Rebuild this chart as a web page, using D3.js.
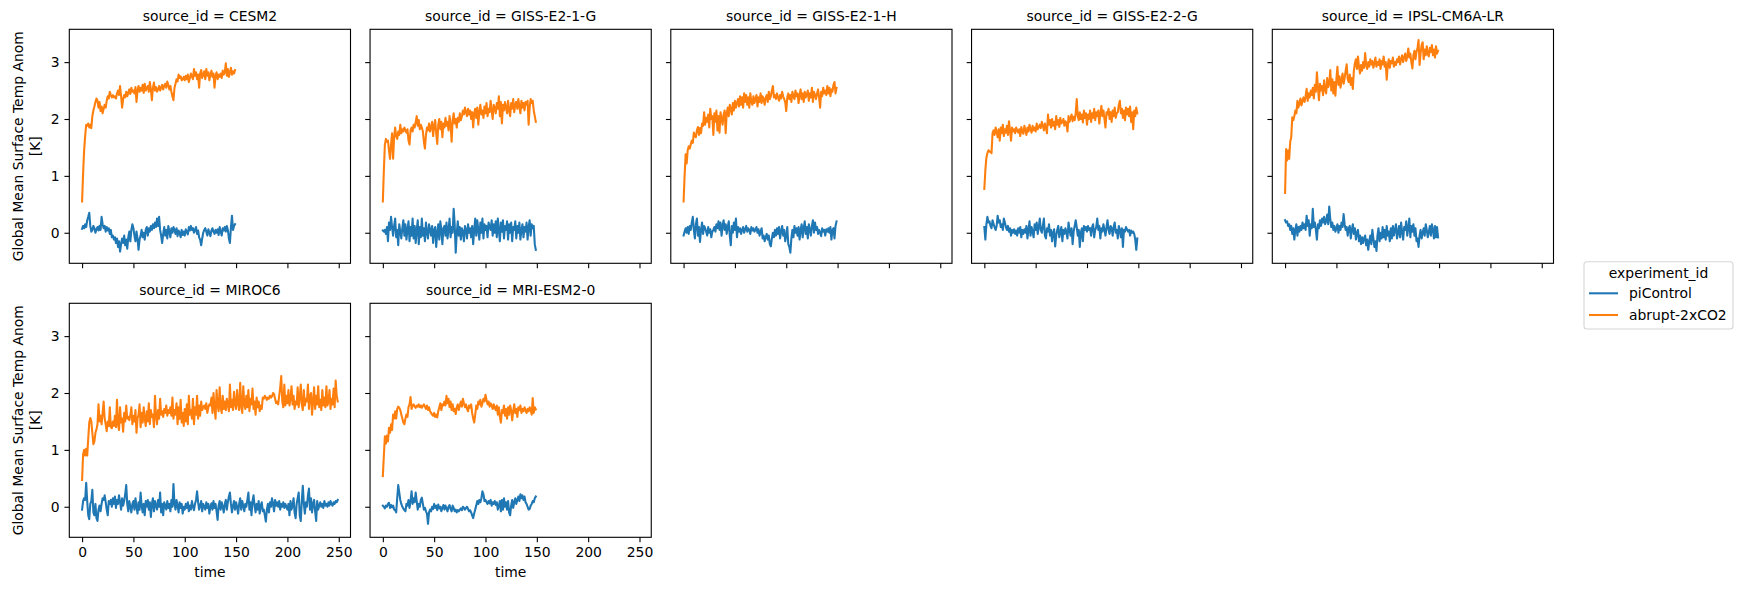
<!DOCTYPE html>
<html>

<head>
    <meta charset="utf-8">
    <title>Global Mean Surface Temp Anom</title>
    <script src="https://d3js.org/d3.v7.min.js"></script>
    <style>
        body { margin: 0; background: #fff; overflow: hidden; }
        text { font-family: "DejaVu Sans", sans-serif; fill: #000; }
    </style>
</head>

<body>
    <svg width="1740" height="590"></svg>
    <script>
        // facet names, legend entries, ticks
        const sourceIds = ["CESM2", "GISS-E2-1-G", "GISS-E2-1-H", "GISS-E2-2-G", "IPSL-CM6A-LR", "MIROC6", "MRI-ESM2-0"]
        const experiments = ["piControl", "abrupt-2xCO2"]
        const xTicks = [0, 50, 100, 150, 200, 250]
        const yTicks = [0, 1, 2, 3]

        // yearly values (index = year)
        const cesm2Control = [
            0.07, 0.12, 0.08, 0.15, 0.10, 0.22, 0.28, 0.35, 0.12, 0.02,
            0.05, 0.12, 0.08, 0.00, 0.06, 0.10, 0.04, 0.12, 0.05, 0.28,
            0.15, 0.08, 0.12, 0.02, 0.10, 0.04, 0.08, -0.02, 0.05, -0.08,
            -0.05, -0.12, -0.08, -0.18, -0.10, -0.25, -0.15, -0.33, -0.20, -0.10,
            -0.18, -0.05, -0.22, -0.12, -0.28, -0.08, 0.02, -0.15, 0.05, 0.15,
            0.08, -0.05, -0.15, 0.02, -0.10, -0.30, -0.12, -0.05, 0.05, -0.08,
            0.00, -0.12, 0.05, 0.10, -0.05, 0.08, 0.02, 0.12, 0.05, 0.15,
            0.08, 0.18, 0.10, 0.25, 0.12, 0.28, 0.05, -0.05, -0.18, -0.02,
            0.10, -0.05, 0.05, -0.10, 0.12, 0.02, -0.08, 0.08, 0.00, 0.10,
            0.05, -0.02, 0.08, -0.06, 0.04, 0.00, -0.08, 0.05, -0.04, 0.02,
            -0.05, 0.06, 0.02, -0.03, 0.10, 0.04, 0.12, 0.05, 0.08, 0.00,
            0.05, 0.10, -0.02, 0.04, -0.08, -0.12, -0.22, -0.10, 0.00, 0.05,
            0.08, 0.02, -0.05, 0.06, 0.00, -0.06, 0.04, 0.08, 0.02, -0.02,
            0.05, 0.00, 0.06, -0.04, 0.10, 0.02, -0.05, 0.08, 0.04, 0.10,
            0.02, 0.12, 0.05, -0.10, -0.18, 0.10, 0.30, 0.05, 0.12, 0.15
        ]
        const cesm2Abrupt = [
            0.55, 1.05, 1.45, 1.70, 1.90, 1.88, 1.92, 1.85, 1.90, 1.84,
            2.05, 2.15, 2.22, 2.30, 2.36, 2.32, 2.20, 2.30, 2.14, 2.22,
            2.10, 2.18, 2.25, 2.20, 2.32, 2.40, 2.36, 2.48, 2.42, 2.38,
            2.42, 2.38, 2.40, 2.36, 2.45, 2.50, 2.42, 2.58, 2.40, 2.20,
            2.35, 2.42, 2.38, 2.48, 2.40, 2.46, 2.52, 2.44, 2.55, 2.48,
            2.50, 2.45, 2.56, 2.30, 2.50, 2.58, 2.48, 2.55, 2.50, 2.60,
            2.46, 2.62, 2.50, 2.55, 2.58, 2.48, 2.65, 2.52, 2.33, 2.55,
            2.64, 2.50, 2.56, 2.48, 2.52, 2.58, 2.50, 2.55, 2.60, 2.52,
            2.58, 2.62, 2.55, 2.66, 2.60, 2.52, 2.58, 2.48, 2.40, 2.33,
            2.55, 2.62, 2.70, 2.66, 2.78, 2.72, 2.75, 2.68, 2.70, 2.74,
            2.68, 2.76, 2.70, 2.78, 2.65, 2.72, 2.80, 2.74, 2.70, 2.88,
            2.76, 2.82, 2.70, 2.78, 2.55, 2.80, 2.86, 2.72, 2.78, 2.84,
            2.70, 2.88, 2.76, 2.82, 2.68, 2.78, 2.85, 2.74, 2.80, 2.55,
            2.76, 2.82, 2.70, 2.78, 2.74, 2.80, 2.72, 2.85, 2.78, 2.82,
            2.98, 2.76, 2.88, 2.74, 2.82, 2.90, 2.78, 2.84, 2.80, 2.86
        ]
        const giss21gControl = [
            0.04, 0.02, 0.05, -0.02, 0.10, -0.15, 0.18, 0.05, 0.28, 0.10,
            -0.05, 0.12, 0.25, -0.08, 0.05, -0.22, 0.15, 0.02, -0.10, 0.08,
            0.22, -0.05, 0.15, -0.12, 0.05, 0.20, -0.15, 0.10, -0.05, 0.25,
            -0.10, 0.12, -0.18, 0.05, 0.22, -0.20, 0.10, -0.08, 0.25, -0.05,
            0.08, -0.15, 0.18, 0.00, -0.10, 0.15, 0.05, -0.05, 0.12, -0.18,
            0.05, 0.10, -0.25, 0.00, 0.15, -0.12, 0.20, 0.05, -0.20, 0.08,
            0.12, -0.05, 0.18, -0.10, 0.05, 0.25, -0.08, 0.10, 0.00, 0.42,
            0.15, -0.35, 0.00, 0.20, -0.05, 0.10, -0.12, 0.08, 0.02, -0.15,
            0.12, 0.05, -0.10, 0.15, 0.00, 0.08, -0.08, 0.12, -0.20, 0.05,
            0.25, -0.05, 0.22, 0.05, -0.12, 0.18, 0.00, 0.25, -0.10, 0.15,
            0.05, 0.12, -0.08, 0.18, 0.10, 0.05, 0.22, -0.05, 0.15, 0.00,
            0.20, -0.08, 0.25, 0.05, -0.15, 0.18, 0.02, 0.22, -0.10, 0.12,
            0.05, 0.20, -0.12, 0.15, 0.00, 0.18, -0.15, 0.10, 0.05, 0.20,
            -0.10, 0.12, 0.00, 0.18, -0.12, 0.05, 0.15, -0.08, 0.10, 0.02,
            0.18, -0.12, 0.10, 0.22, -0.05, 0.15, 0.08, 0.12, -0.20, -0.30
        ]
        const giss21gAbrupt = [
            0.55, 1.10, 1.55, 1.65, 1.60, 1.62, 1.45, 1.30, 1.55, 1.75,
            1.30, 1.68, 1.85, 1.70, 1.65, 1.78, 1.72, 1.90, 1.75, 1.82,
            1.78, 1.85, 1.80, 1.76, 1.82, 1.62, 1.55, 1.80, 1.85, 1.78,
            1.90, 1.85, 1.95, 2.05, 1.88, 1.98, 1.82, 1.90, 1.85, 1.78,
            1.60, 1.48, 1.72, 1.85, 1.80, 1.92, 1.78, 1.86, 1.95, 1.70,
            1.88, 1.98, 1.75, 1.56, 1.90, 2.00, 1.82, 1.95, 1.68, 1.92,
            1.85, 2.02, 1.88, 1.95, 1.80, 2.05, 1.90, 1.60, 1.98, 2.10,
            1.92, 2.00, 1.85, 2.02, 1.95, 2.10, 1.98, 2.05, 2.15, 2.08,
            2.20, 2.12, 2.05, 2.18, 2.08, 2.15, 2.00, 2.12, 1.85, 2.10,
            2.18, 2.02, 2.20, 1.90, 2.12, 2.25, 2.08, 2.15, 2.02, 2.22,
            2.10, 2.28, 2.05, 2.18, 2.12, 2.32, 2.15, 2.00, 2.25, 2.20,
            2.10, 2.28, 2.18, 2.40, 2.05, 2.30, 1.92, 2.25, 2.15, 2.30,
            2.20, 2.10, 2.32, 2.15, 2.05, 2.28, 2.18, 2.35, 2.12, 2.25,
            2.30, 2.18, 2.35, 2.22, 2.10, 2.32, 2.20, 2.28, 2.15, 2.30,
            2.25, 2.32, 1.90, 2.20, 2.35, 2.28, 2.32, 2.15, 2.05, 1.95
        ]
        const giss21hControl = [
            -0.05, 0.02, 0.08, 0.00, 0.10, -0.02, 0.12, 0.05, 0.18, 0.28,
            0.05, -0.10, 0.15, 0.25, -0.05, 0.10, -0.16, 0.05, 0.18, -0.02,
            0.12, 0.08, 0.02, -0.05, 0.10, 0.00, 0.06, -0.08, 0.02, 0.05,
            0.10, 0.02, 0.15, 0.08, 0.20, 0.05, 0.18, -0.05, 0.12, 0.22,
            0.05, 0.15, -0.02, 0.10, 0.20, -0.05, -0.22, 0.12, 0.00, 0.18,
            0.05, 0.25, -0.08, 0.10, 0.02, 0.08, -0.02, 0.05, 0.10, 0.00,
            0.06, 0.12, 0.02, 0.08, 0.05, -0.02, 0.10, 0.04, 0.08, 0.02,
            0.05, 0.10, 0.00, 0.06, -0.05, 0.02, 0.08, -0.10, -0.05, -0.15,
            -0.08, -0.02, -0.12, -0.05, -0.20, -0.24, -0.10, 0.00, -0.08, 0.05,
            -0.05, 0.08, -0.02, 0.10, -0.10, 0.02, 0.12, -0.05, 0.05, -0.15,
            -0.05, 0.10, -0.20, -0.25, -0.35, -0.10, 0.05, -0.08, 0.12, 0.00,
            0.08, -0.05, 0.10, -0.12, 0.05, 0.15, -0.08, 0.08, 0.20, -0.02,
            0.10, -0.10, 0.15, 0.05, -0.05, 0.12, 0.22, 0.00, 0.18, 0.05,
            0.10, -0.02, 0.05, 0.00, -0.06, 0.08, 0.02, 0.05, -0.05, 0.06,
            0.02, 0.08, 0.00, 0.10, -0.12, 0.05, 0.08, -0.10, 0.12, 0.20
        ]
        const giss21hAbrupt = [
            0.55, 1.00, 1.38, 1.22, 1.45, 1.52, 1.48, 1.55, 1.62, 1.58,
            1.76, 1.70, 1.68, 1.80, 1.86, 1.72, 1.84, 1.75, 1.92, 1.88,
            2.12, 1.90, 2.02, 1.95, 2.08, 1.85, 2.18, 2.00, 2.05, 1.72,
            2.10, 1.95, 2.15, 1.80, 2.05, 1.76, 2.12, 2.00, 1.90, 2.08,
            2.15, 1.75, 2.10, 2.20, 2.05, 2.25, 2.18, 2.08, 2.28, 2.15,
            2.32, 2.20, 2.28, 2.35, 2.22, 2.40, 2.25, 2.38, 2.20, 2.45,
            2.30, 2.42, 2.25, 2.38, 2.20, 2.45, 2.30, 2.25, 2.40, 2.28,
            2.35, 2.42, 2.22, 2.38, 2.30, 2.45, 2.28, 2.40, 2.35, 2.25,
            2.38, 2.42, 2.30, 2.48, 2.35, 2.40, 2.50, 2.58, 2.38, 2.42,
            2.35, 2.45, 2.38, 2.32, 2.42, 2.36, 2.48, 2.40, 2.35, 2.30,
            2.14, 2.38, 2.45, 2.35, 2.42, 2.30, 2.48, 2.40, 2.35, 2.50,
            2.40, 2.45, 2.28, 2.42, 2.52, 2.35, 2.45, 2.30, 2.48, 2.38,
            2.42, 2.50, 2.32, 2.45, 2.38, 2.55, 2.30, 2.48, 2.42, 2.35,
            2.45, 2.52, 2.38, 2.20, 2.48, 2.40, 2.55, 2.45, 2.50, 2.42,
            2.58, 2.45, 2.55, 2.40, 2.52, 2.48, 2.60, 2.65, 2.45, 2.55
        ]
        const giss22gControl = [
            0.10, -0.12, 0.15, 0.28, 0.18, 0.20, 0.12, 0.08, 0.22, 0.15,
            0.10, 0.05, 0.12, 0.30, 0.18, 0.22, 0.10, 0.15, 0.05, 0.25,
            0.18, 0.10, 0.05, 0.12, 0.02, 0.08, -0.05, 0.05, 0.00, 0.06,
            -0.02, 0.04, -0.05, 0.08, 0.00, 0.10, -0.08, 0.05, -0.02, 0.06,
            0.00, 0.12, -0.10, 0.05, 0.20, -0.05, 0.10, 0.02, -0.08, 0.15,
            0.05, 0.18, -0.02, 0.10, 0.25, 0.05, 0.00, 0.12, 0.25, -0.05,
            -0.10, 0.08, 0.02, 0.15, -0.05, 0.05, -0.15, 0.00, 0.06, -0.24,
            -0.05, 0.05, 0.12, -0.08, 0.02, 0.10, -0.15, 0.05, -0.02, 0.08,
            0.00, -0.10, 0.18, 0.05, -0.05, 0.08, -0.20, 0.02, 0.12, 0.22,
            0.10, -0.05, 0.05, -0.25, 0.00, 0.08, -0.15, 0.12, 0.05, 0.10,
            0.02, 0.12, 0.05, 0.08, -0.05, 0.10, 0.15, -0.08, 0.05, 0.10,
            0.25, 0.05, 0.12, -0.10, 0.08, 0.02, 0.15, 0.05, -0.05, 0.10,
            0.22, 0.05, -0.02, 0.12, 0.08, -0.05, 0.10, 0.18, 0.00, 0.05,
            -0.10, 0.12, 0.05, -0.08, 0.08, -0.25, 0.05, 0.02, 0.10, 0.06,
            0.02, 0.05, -0.05, 0.04, 0.00, 0.02, -0.02, -0.12, -0.30, -0.10
        ]
        const giss22gAbrupt = [
            0.77, 1.10, 1.32, 1.40, 1.45, 1.43, 1.42, 1.40, 1.75, 1.80,
            1.72, 1.85, 1.78, 1.68, 1.82, 1.62, 1.85, 1.75, 1.90, 1.70,
            1.82, 1.76, 1.88, 1.72, 1.96, 1.80, 1.62, 1.85, 1.78, 1.82,
            1.75, 1.85, 1.80, 1.76, 1.82, 1.70, 1.86, 1.78, 1.74, 1.88,
            1.80, 1.72, 1.85, 1.78, 1.90, 1.82, 1.76, 1.88, 1.80, 1.85,
            1.78, 1.92, 1.82, 1.86, 1.90, 1.84, 1.95, 1.88, 1.80, 1.92,
            1.85, 1.75, 2.08, 1.90, 1.98, 1.85, 2.00, 1.88, 1.95, 1.82,
            2.05, 1.90, 1.98, 1.86, 2.02, 1.92, 1.95, 2.00, 1.88, 1.96,
            1.92, 1.78, 2.05, 1.95, 2.02, 2.08, 1.96, 2.04, 1.98, 2.10,
            2.35, 2.05, 1.98, 2.12, 2.00, 2.08, 1.94, 2.15, 2.02, 2.10,
            1.90, 2.08, 2.00, 2.15, 1.95, 2.10, 2.02, 2.18, 1.98, 2.12,
            2.05, 2.15, 1.92, 2.10, 2.23, 2.05, 2.15, 2.00, 1.85, 2.12,
            2.08, 2.18, 2.00, 2.12, 1.95, 2.15, 2.05, 2.20, 2.02, 2.10,
            2.12, 2.25, 2.32, 2.10, 2.18, 2.02, 2.15, 1.98, 2.20, 2.08,
            2.18, 2.05, 2.22, 1.95, 2.12, 1.82, 2.15, 2.05, 2.20, 2.10
        ]
        const ipslControl = [
            0.22, 0.18, 0.20, 0.12, 0.15, 0.05, 0.12, -0.02, 0.08, -0.12,
            0.05, 0.15, -0.05, 0.10, 0.02, 0.12, 0.05, 0.18, 0.08, 0.15,
            0.05, 0.30, 0.12, 0.22, -0.05, 0.15, 0.08, 0.42, 0.10, 0.18,
            0.05, -0.12, 0.15, 0.08, 0.22, 0.12, 0.25, 0.18, 0.28, 0.15,
            0.20, 0.32, 0.15, 0.46, 0.25, 0.10, 0.18, 0.05, 0.12, 0.02,
            0.08, 0.15, 0.00, 0.12, 0.05, 0.18, 0.10, 0.33, 0.15, 0.05,
            0.10, -0.05, 0.08, 0.12, -0.10, 0.05, 0.15, -0.02, 0.08, -0.12,
            0.00, 0.05, -0.15, -0.05, -0.20, -0.08, -0.18, -0.10, -0.05, -0.22,
            -0.12, -0.30, -0.15, -0.05, -0.20, 0.05, -0.10, -0.25, -0.15, -0.32,
            -0.05, 0.08, -0.15, 0.00, -0.10, 0.10, -0.08, 0.05, -0.12, 0.12,
            -0.05, 0.02, -0.15, 0.08, -0.10, 0.12, -0.05, 0.05, 0.15, -0.10,
            0.00, 0.12, -0.08, 0.18, 0.02, -0.12, 0.10, 0.05, 0.20, -0.05,
            0.08, 0.25, -0.08, 0.12, 0.02, 0.15, -0.05, 0.08, -0.15, -0.10,
            -0.25, -0.05, 0.05, -0.10, 0.00, 0.08, -0.05, 0.15, 0.05, -0.08,
            0.02, 0.12, -0.05, 0.15, 0.05, -0.10, 0.12, -0.08, 0.10, -0.08
        ]
        const ipslAbrupt = [
            0.70, 1.47, 1.27, 1.45, 1.30, 1.60, 1.68, 2.03, 1.98, 2.05,
            2.15, 2.10, 2.32, 2.20, 2.28, 2.36, 2.24, 2.32, 2.38, 2.30,
            2.40, 2.53, 2.32, 2.45, 2.38, 2.50, 2.42, 2.55, 2.36, 2.60,
            2.48, 2.82, 2.55, 2.33, 2.62, 2.50, 2.58, 2.42, 2.68, 2.52,
            2.45, 2.72, 2.56, 2.62, 2.86, 2.50, 2.70, 2.45, 2.65, 2.41,
            2.70, 2.92, 2.60, 2.75, 2.55, 2.68, 2.80, 2.62, 2.72, 2.85,
            2.96, 2.70, 2.65, 2.78, 2.60, 2.72, 2.53, 2.85, 2.98, 3.05,
            2.88, 3.10, 2.92, 2.80, 2.95, 2.85, 3.00, 2.90, 3.16, 2.95,
            2.88, 3.00, 2.92, 3.05, 2.96, 3.02, 2.90, 2.98, 3.08, 2.92,
            3.00, 2.95, 3.05, 2.88, 3.02, 2.96, 3.10, 2.92, 3.00, 2.69,
            2.95, 3.05, 2.90, 3.02, 2.98, 3.08, 2.92, 3.00, 2.95, 3.05,
            3.00, 3.10, 2.96, 3.05, 3.12, 3.00, 3.08, 3.15, 3.02, 3.10,
            3.24, 3.08, 3.15, 3.00, 2.89, 3.12, 3.20, 3.05, 3.18, 3.25,
            3.39, 2.95, 3.15, 3.30, 3.35, 3.05, 3.22, 3.12, 3.28, 3.15,
            3.10, 3.25, 3.18, 3.30, 3.12, 3.22, 3.08, 3.28, 3.15, 3.20
        ]
        const mirocControl = [
            -0.05, 0.10, 0.15, 0.12, 0.42, 0.10, -0.15, -0.22, 0.05, 0.10,
            0.30, -0.10, -0.15, 0.05, -0.20, -0.25, -0.05, 0.02, -0.08, 0.05,
            0.15, 0.12, 0.20, 0.08, -0.05, -0.15, 0.10, 0.05, 0.12, 0.00,
            0.15, 0.05, 0.18, -0.02, 0.12, 0.05, 0.20, 0.08, -0.05, 0.15,
            0.02, 0.10, 0.22, 0.38, 0.05, -0.08, 0.10, 0.00, -0.10, 0.05,
            0.10, -0.05, 0.15, 0.00, -0.12, 0.08, -0.05, 0.25, 0.02, -0.10,
            0.05, -0.15, 0.10, 0.00, 0.12, -0.05, 0.08, -0.18, 0.05, 0.15,
            -0.08, 0.10, 0.02, -0.05, 0.12, 0.00, 0.25, -0.10, 0.05, -0.15,
            0.08, 0.02, -0.05, 0.10, -0.02, 0.05, -0.08, 0.12, 0.00, 0.40,
            0.05, -0.05, 0.12, 0.02, -0.10, 0.08, -0.02, 0.05, -0.12, 0.00,
            -0.05, 0.05, -0.02, 0.08, -0.08, 0.02, -0.05, 0.10, 0.00, -0.06,
            0.05, 0.12, 0.27, 0.08, -0.05, 0.02, 0.10, -0.08, 0.05, 0.00,
            -0.05, 0.08, -0.02, 0.05, -0.12, 0.00, 0.06, -0.05, 0.10, -0.02,
            0.05, -0.08, -0.23, 0.02, 0.10, -0.05, 0.08, 0.00, -0.10, 0.05,
            0.12, -0.05, 0.08, 0.18, 0.25, 0.05, -0.10, 0.02, 0.10, -0.05,
            0.08, 0.00, -0.12, 0.05, 0.15, -0.05, 0.10, 0.02, -0.08, 0.05,
            0.00, 0.12, 0.25, -0.05, 0.08, -0.15, 0.10, 0.20, 0.02, -0.10,
            0.05, -0.05, 0.10, -0.12, 0.02, 0.08, -0.08, -0.05, -0.15, -0.26,
            -0.05, 0.05, -0.10, 0.08, 0.00, 0.15, 0.05, -0.08, 0.12, 0.02,
            0.08, 0.00, 0.10, -0.05, 0.05, 0.00, 0.08, -0.02, 0.05, 0.00,
            -0.05, 0.05, -0.15, 0.10, -0.05, 0.02, 0.15, -0.10, -0.20, 0.05,
            0.15, 0.25, -0.15, -0.25, 0.10, 0.37, 0.05, -0.12, 0.08, 0.00,
            0.20, 0.32, -0.05, 0.15, -0.10, 0.05, 0.12, -0.08, -0.25, 0.10,
            -0.05, 0.02, 0.08, 0.00, 0.05, -0.02, 0.10, 0.02, 0.05, 0.00,
            0.08, 0.02, 0.10, 0.05, 0.02, 0.08, 0.05, 0.10, 0.08, 0.12
        ]
        const mirocAbrupt = [
            0.47, 0.92, 1.00, 0.90, 1.02, 0.90, 1.20, 1.48, 1.56, 1.50,
            1.30, 1.10, 1.15, 1.30, 1.36, 1.45, 1.80, 1.50, 1.60, 1.45,
            1.65, 1.85, 1.55, 1.45, 1.33, 1.50, 1.42, 1.75, 1.40, 1.38,
            1.50, 1.42, 1.60, 1.40, 1.88, 1.45, 1.35, 1.75, 1.48, 1.55,
            1.32, 1.65, 1.50, 1.78, 1.55, 1.58, 1.52, 1.60, 1.75, 1.45,
            1.60, 1.50, 1.70, 1.30, 1.55, 1.62, 1.80, 1.40, 1.65, 1.48,
            1.75, 1.55, 1.42, 1.68, 1.50, 1.82, 1.45, 1.70, 1.58, 1.62,
            1.40, 1.95, 1.60, 1.45, 1.70, 1.55, 1.90, 1.62, 1.68, 1.58,
            1.72, 1.65, 1.78, 1.60, 1.70, 1.65, 1.75, 1.60, 1.92, 1.55,
            1.70, 1.62, 1.82, 1.45, 1.75, 1.55, 1.88, 1.48, 1.65, 1.42,
            1.72, 1.50, 1.80, 1.45, 1.95, 1.62, 1.70, 1.55, 1.90, 1.45,
            1.75, 1.62, 1.95, 1.55, 1.78, 1.60, 1.85, 1.70, 1.75, 1.78,
            1.72, 1.82, 1.65, 1.75, 1.80, 1.78, 1.92, 1.65, 2.00, 1.75,
            1.55, 2.05, 1.78, 1.68, 2.10, 1.75, 1.65, 1.95, 1.72, 1.85,
            1.70, 1.90, 1.80, 1.68, 2.15, 1.75, 1.88, 1.70, 2.02, 1.80,
            1.72, 2.05, 1.82, 1.70, 2.18, 1.78, 1.65, 2.12, 1.80, 1.72,
            1.95, 1.75, 2.05, 1.68, 1.90, 1.80, 2.08, 1.72, 1.85, 1.62,
            1.92, 1.75, 1.85, 1.68, 1.78, 1.72, 1.92, 1.90, 1.95, 1.92,
            1.88, 1.92, 1.90, 1.95, 1.92, 1.94, 2.00, 1.98, 1.90, 1.82,
            1.85, 1.80, 1.95, 2.10, 2.30, 1.85, 1.75, 2.15, 1.78, 1.95,
            1.82, 2.05, 1.78, 1.90, 2.12, 1.80, 1.95, 1.72, 1.85, 1.80,
            2.10, 1.75, 1.92, 2.15, 1.80, 1.70, 2.05, 1.78, 1.90, 1.85,
            2.15, 1.72, 1.95, 2.00, 1.62, 1.85, 2.10, 1.72, 1.95, 1.80,
            2.12, 1.75, 1.88, 1.70, 2.05, 1.78, 1.92, 1.75, 2.12, 1.78,
            1.85, 2.05, 1.72, 1.90, 1.80, 2.08, 1.75, 2.22, 1.95, 1.85
        ]
        const mriControl = [
            0.02, 0.00, -0.03, 0.02, 0.00, 0.05, 0.07, -0.02, 0.03, -0.01,
            0.02, -0.05, -0.06, -0.10, 0.15, 0.38, 0.25, 0.12, 0.05, 0.00,
            -0.03, -0.06, -0.08, 0.05, 0.02, 0.12, -0.02, 0.10, 0.27, 0.05,
            0.15, 0.08, 0.25, 0.10, -0.05, 0.05, 0.00, 0.12, 0.16, 0.05,
            -0.05, -0.02, -0.08, -0.12, -0.30, -0.10, -0.05, -0.08, 0.00, -0.04,
            0.05, -0.02, 0.02, -0.06, 0.04, -0.03, 0.00, -0.08, -0.02, 0.03,
            -0.05, 0.02, -0.03, -0.08, 0.00, 0.03, -0.04, -0.08, 0.02, -0.02,
            -0.08, -0.05, -0.10, -0.06, -0.08, -0.05, -0.03, -0.06, 0.00, -0.02,
            -0.05, -0.02, 0.00, -0.04, -0.08, -0.06, -0.10, -0.15, -0.20, -0.12,
            -0.05, 0.02, 0.10, 0.05, 0.12, 0.08, 0.15, 0.27, 0.22, 0.10,
            0.12, 0.08, 0.05, 0.10, 0.06, 0.12, 0.02, 0.08, 0.05, 0.10,
            0.03, 0.08, -0.05, 0.02, 0.10, -0.08, 0.12, -0.05, 0.15, 0.00,
            0.08, -0.05, 0.10, -0.10, -0.15, 0.02, 0.12, -0.02, 0.08, 0.15,
            0.05, 0.12, 0.18, 0.10, 0.22, 0.15, 0.20, 0.12, 0.18, 0.08,
            0.05, 0.00, -0.05, -0.04, 0.02, 0.05, 0.10, 0.08, 0.15, 0.18
        ]
        const mriAbrupt = [
            0.54, 0.90, 1.24, 1.11, 1.25, 1.15, 1.39, 1.30, 1.45, 1.35,
            1.62, 1.55, 1.68, 1.55, 1.72, 1.76, 1.74, 1.70, 1.62, 1.55,
            1.48, 1.45, 1.55, 1.62, 1.58, 1.75, 1.80, 1.93, 1.72, 1.78,
            1.80, 1.76, 1.74, 1.78, 1.76, 1.80, 1.75, 1.78, 1.74, 1.77,
            1.80, 1.76, 1.72, 1.78, 1.70, 1.75, 1.68, 1.65, 1.62, 1.60,
            1.65, 1.58, 1.62, 1.57, 1.68, 1.75, 1.82, 1.70, 1.80, 1.78,
            1.85, 1.78, 1.95, 1.82, 1.90, 1.75, 1.85, 1.70, 1.80, 1.68,
            1.72, 1.63, 1.75, 1.80, 1.70, 1.78, 1.85, 1.76, 1.90, 1.82,
            1.75, 1.80, 1.72, 1.68, 1.78, 1.74, 1.80, 1.65, 1.55, 1.48,
            1.62, 1.78, 1.72, 1.85, 1.80, 1.88, 1.76, 1.82, 1.90, 1.85,
            1.97, 1.88, 1.80, 1.85, 1.76, 1.82, 1.78, 1.72, 1.80, 1.74,
            1.70, 1.78, 1.62, 1.75, 1.58, 1.48, 1.70, 1.65, 1.78, 1.60,
            1.72, 1.55, 1.75, 1.62, 1.78, 1.70, 1.52, 1.68, 1.80, 1.65,
            1.72, 1.58, 1.75, 1.70, 1.78, 1.65, 1.72, 1.68, 1.75, 1.70,
            1.65, 1.72, 1.68, 1.75, 1.70, 1.62, 1.91, 1.65, 1.75, 1.71
        ]

        const controlSeries = [cesm2Control, giss21gControl, giss21hControl, giss22gControl, ipslControl, mirocControl, mriControl]
        const abruptSeries = [cesm2Abrupt, giss21gAbrupt, giss21hAbrupt, giss22gAbrupt, ipslAbrupt, mirocAbrupt, mriAbrupt]
        const colors = ["#1f77b4", "#ff7f0e"]

        const svg = d3.select("svg")
        const fontSize = 13.9
        const tick = 4.86

        // facet grid layout (matplotlib style)
        const x0 = 69.3, y0 = 29.3
        const panelW = 281.2, panelH = 234
        const stepX = 300.75, stepY = 274
        const nCols = 5

        // shared scales with 5% margins like matplotlib
        const allVals = controlSeries.concat(abruptSeries).flat()
        const maxLen = d3.max(controlSeries.concat(abruptSeries), s => s.length) - 1
        const yMin = d3.min(allVals), yMax = d3.max(allVals)
        const xPad = maxLen * 0.05, yPad = (yMax - yMin) * 0.05

        const xScale = d3.scaleLinear().domain([-xPad, maxLen + xPad]).range([0, panelW])
        const yScale = d3.scaleLinear().domain([yMin - yPad, yMax + yPad]).range([panelH, 0])

        const line = d3.line()
            .x((d, i) => xScale(i))
            .y(d => yScale(d))

        const nRows = Math.ceil(sourceIds.length / nCols)

        sourceIds.forEach((id, k) => {
            const col = k % nCols
            const row = Math.floor(k / nCols)
            const g = svg.append("g")
                .attr("transform", `translate(${x0 + col * stepX},${y0 + row * stepY})`)

            // only the bottom row gets x tick labels
            const bottom = row === nRows - 1

            const yAxis = d3.axisLeft(yScale).tickValues(yTicks).tickSize(tick).tickPadding(tick)
                .tickFormat(col > 0 ? "" : d3.format("d"))
            const xAxis = d3.axisBottom(xScale).tickValues(xTicks).tickSize(tick).tickPadding(tick)
                .tickFormat(bottom ? d3.format("d") : "")

            const ya = g.append("g").call(yAxis)
            const xa = g.append("g").attr("transform", `translate(0,${panelH})`).call(xAxis)
            for (const a of [ya, xa]) {
                a.select(".domain").remove()
                a.attr("font-family", null).attr("font-size", null)
                a.selectAll("line").attr("stroke", "#000").attr("stroke-width", 1.1)
                a.selectAll("text").style("font-size", fontSize + "px").attr("fill", "#000")
            }

            const series = [controlSeries[k], abruptSeries[k]]
            series.forEach((s, j) => {
                g.append("path")
                    .datum(s)
                    .attr("d", line)
                    .attr("fill", "none")
                    .attr("stroke", colors[j])
                    .attr("stroke-width", 2.08)
                    .attr("stroke-linejoin", "round")
                    .attr("stroke-linecap", "square")
            })

            g.append("rect")
                .attr("width", panelW)
                .attr("height", panelH)
                .attr("fill", "none")
                .attr("stroke", "#000")
                .attr("stroke-width", 1.1)

            g.append("text")
                .attr("x", panelW / 2)
                .attr("y", -8.3)
                .attr("text-anchor", "middle")
                .style("font-size", fontSize + "px")
                .text("source_id = " + id)

            if (col === 0) {
                const yl = g.append("text")
                    .attr("transform", `translate(${23 - x0},${panelH / 2}) rotate(-90)`)
                    .attr("text-anchor", "middle")
                    .style("font-size", fontSize + "px")
                yl.append("tspan").attr("x", 0).attr("y", 0).text("Global Mean Surface Temp Anom")
                yl.append("tspan").attr("x", 0).attr("dy", 16.7).text("[K]")
            }

            if (bottom) {
                g.append("text")
                    .attr("x", panelW / 2)
                    .attr("y", panelH + 39.5)
                    .attr("text-anchor", "middle")
                    .style("font-size", fontSize + "px")
                    .text("time")
            }
        })

        // legend
        const lg = svg.append("g").attr("transform", "translate(1584,261.7)")
        lg.append("rect")
            .attr("width", 149)
            .attr("height", 67.3)
            .attr("rx", 3)
            .attr("fill", "#fff")
            .attr("stroke", "#d6d6d6")
            .attr("stroke-width", 1.1)
        lg.append("text")
            .attr("x", 74.5)
            .attr("y", 16)
            .attr("text-anchor", "middle")
            .style("font-size", fontSize + "px")
            .text("experiment_id")
        experiments.forEach((e, j) => {
            const yy = 31.6 + j * 21.7
            lg.append("line")
                .attr("x1", 5).attr("x2", 34)
                .attr("y1", yy).attr("y2", yy)
                .attr("stroke", colors[j])
                .attr("stroke-width", 2.08)
            lg.append("text")
                .attr("x", 45)
                .attr("y", yy + 5)
                .style("font-size", fontSize + "px")
                .text(e)
        })
    </script>
</body>

</html>
